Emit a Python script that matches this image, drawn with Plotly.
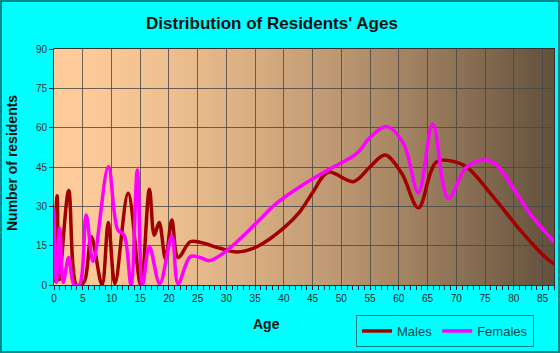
import plotly.graph_objects as go

# ---- data ----
male_age = [0, 0.55, 0.9, 2.55, 3.9, 4.7, 5.4, 6.5, 8.35, 9.45, 10.6, 12.9, 15.1, 16.6,
            17.45, 18.3, 19.4, 20.5, 21.6, 23.7, 25.4, 28.9, 31.8, 35.3, 39.9, 42.8,
            45.1, 47.7, 52.1, 55, 57.6, 60.5, 63.4, 66.6, 70.6, 72.4, 76.4, 81.1, 85.1, 87]
male_n = [1, 34, 2, 36, 0, 0, 2, 18.4, 0, 23.8, 0.5, 35, 0, 36.5,
          19, 23.8, 10, 24.8, 10.5, 16.5, 16.3, 14, 12.6, 14.6, 21.6, 28,
          35.6, 43, 39.4, 45.1, 49.6, 42.6, 29.5, 47, 46.4, 43.9, 33.7, 21, 11.4, 8]

female_age = [0, 0.4, 1.0, 1.6, 2.55, 3.5, 4.4, 5.6, 6.8, 9.45, 11.1, 12.2, 13.4, 14.5,
              15.4, 16.6, 18.4, 20.5, 21.6, 23.7, 25.4, 27.1, 30.3, 35.3, 38.7, 42.8,
              47.7, 52.7, 55, 57.9, 60.8, 63.4, 65.9, 68.6, 71.8, 75.3, 77, 80.5, 82.8, 87]
female_n = [29, 1, 21.6, 1, 10.5, 0, 0, 26.7, 9, 45.1, 21, 19, 0, 43.9,
            0, 14.6, 0.5, 18.7, 0.5, 10.8, 10.5, 9.3, 13.6, 23.8, 31.1, 37.5,
            43.9, 50.2, 56.3, 60.4, 54, 35.2, 61.4, 33, 45.1, 47.7, 45.8, 35, 27.3, 16.5]

x_ticks = list(range(0, 90, 5))
y_ticks = [0, 15, 30, 45, 60, 75, 90]

X_MAX = 87
Y_MAX = 90

fig = go.Figure()
fig.add_trace(go.Scatter(x=male_age, y=male_n, name="Males", mode="lines",
                         line=dict(color="#A00000", width=3.5, shape="spline", smoothing=1)))
fig.add_trace(go.Scatter(x=female_age, y=female_n, name="Females", mode="lines",
                         line=dict(color="#FF00FF", width=3.5, shape="spline", smoothing=1)))

# gradient background of the plot area (overlapping strips, drawn left to right)
c0 = (255, 204, 153)
c1 = (98, 80, 60)
N = 100
shapes = []
for i in range(N):
    t = (i + 0.5) / N
    f = t ** 1.5
    col = tuple(int(round(c0[k] + (c1[k] - c0[k]) * f)) for k in range(3))
    x0 = X_MAX * i / N
    x1 = X_MAX if i == N - 1 else X_MAX * (i + 1) / N + 1.0
    shapes.append(dict(type="rect", xref="x", yref="paper",
                       x0=x0, x1=x1, y0=0, y1=1,
                       fillcolor="rgb(%d,%d,%d)" % col, line=dict(width=0), layer="below"))

# outer border of the image
L, R, T, B = 54, 6, 49, 68
W, H = 560, 353
pw, ph = W - L - R, H - T - B
shapes.append(dict(type="rect", xref="paper", yref="paper",
                   x0=(1 - L) / pw, x1=(W - 1 - L) / pw,
                   y0=(T + ph - (H - 1)) / ph, y1=(T + ph - 1) / ph,
                   line=dict(color="#008B8B", width=2), fillcolor="rgba(0,0,0,0)", layer="above"))

grid_col = "rgba(70,70,70,0.8)"
fig.update_layout(
    width=W, height=H,
    margin=dict(l=L, r=R, t=T, b=B, autoexpand=False),
    paper_bgcolor="#00FFFF",
    plot_bgcolor="#FFCC99",
    shapes=shapes,
    font=dict(family="Liberation Sans, Arial, sans-serif", color="#222222"),
    title=dict(text="<b>Distribution of Residents' Ages</b>", x=272 / W, xanchor="center",
               xref="container", y=1 - 23 / H, yanchor="middle", yref="container",
               font=dict(size=17, color="#111111")),
    xaxis=dict(range=[0, X_MAX], tickvals=x_ticks, showgrid=True, gridcolor=grid_col, gridwidth=1,
               ticks="outside", ticklen=4, tickcolor="#222222", tickfont=dict(size=10, color="#222222"),
               showline=True, linecolor="#333333", linewidth=1, mirror=True, zeroline=False,
               minor=dict(dtick=1, tick0=0, ticks="outside", ticklen=4, tickcolor="#222222", showgrid=False)),
    yaxis=dict(range=[0, Y_MAX], tickvals=y_ticks, showgrid=True, gridcolor=grid_col, gridwidth=1,
               ticks="outside", ticklen=4, tickcolor="#222222", tickfont=dict(size=10, color="#333333"),
               showline=True, linecolor="#333333", linewidth=1, mirror=True, zeroline=False),
    showlegend=True,
    legend=dict(orientation="h", xref="container", yref="container",
                x=445 / W, y=1 - 315 / H, xanchor="center", yanchor="top",
                bgcolor="#00FFFF", bordercolor="#008080", borderwidth=1,
                itemwidth=30, tracegroupgap=0,
                font=dict(size=13, family="Liberation Sans, Arial, sans-serif", color="#0A4A4A")),
    annotations=[
        dict(text="<b>Age</b>", xref="paper", yref="paper", x=(266.7 - L) / pw,
             y=(T + ph - 324) / ph, showarrow=False, font=dict(size=14, color="#111111"),
             xanchor="center", yanchor="middle"),
        dict(text="<b>Number of residents</b>", xref="paper", yref="paper", x=(12 - L) / pw,
             y=(T + ph - 163) / ph, showarrow=False, textangle=-90,
             font=dict(size=14, color="#111111"), xanchor="center", yanchor="middle"),
    ],
)

fig.write_html("out.html")
